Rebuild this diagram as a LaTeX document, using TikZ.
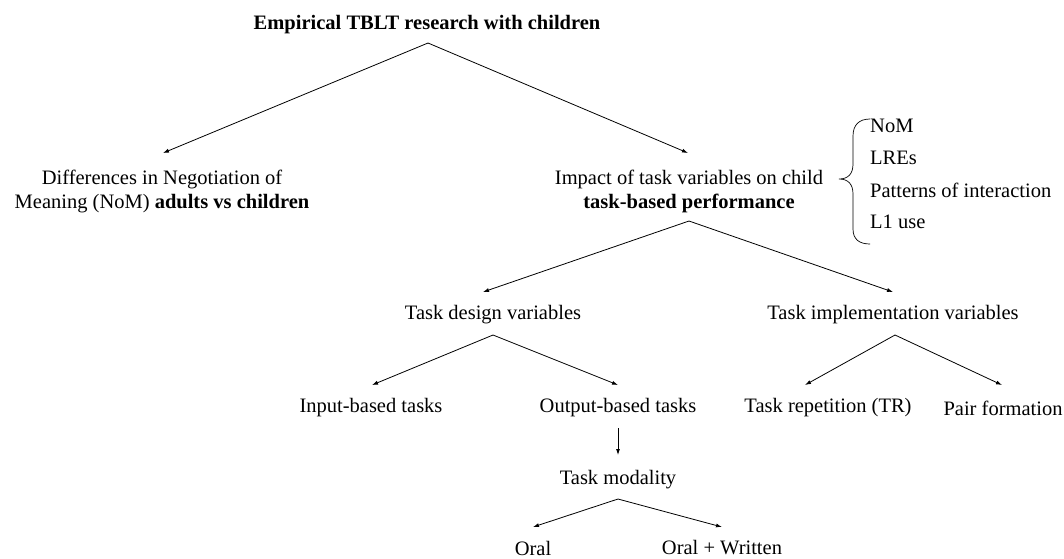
\documentclass[tikz,border=0pt]{standalone}
\usepackage{fontspec}
\setmainfont{Liberation Serif}
\usetikzlibrary{arrows.meta}
\begin{document}
\begin{tikzpicture}[x=1pt,y=-1pt,
  lbl/.style={inner sep=0pt,font=\fontsize{20.5}{24}\selectfont,align=center},
  arr/.style={-{Latex[length=6pt,width=4pt]},line width=0.8pt}]
\useasboundingbox (0,0) rectangle (1064,558);
\node[lbl,font=\fontsize{20.5}{24}\selectfont\bfseries] (title) at (427,25) {Empirical TBLT research with children};
\node[lbl] (diff) at (162,191) {Differences in Negotiation of\\Meaning (NoM) \textbf{adults vs children}};
\node[lbl] (imp) at (689,191) {Impact of task variables on child\\\textbf{task-based performance}};
\node[lbl,anchor=west] (o1) at (870,126) {NoM};
\node[lbl,anchor=west] (o2) at (870,158) {LREs};
\node[lbl,anchor=west] (o3) at (870,190) {Patterns of interaction};
\node[lbl,anchor=west] (o4) at (870,222) {L1 use};
\node[lbl] (design) at (493,315) {Task design variables};
\node[lbl] (impl) at (893,315) {Task implementation variables};
\node[lbl] (input) at (371,408) {Input-based tasks};
\node[lbl] (output) at (618,408) {Output-based tasks};
\node[lbl] (rep) at (828,408) {Task repetition (TR)};
\node[lbl] (pair) at (1003,408) {Pair formation};
\node[lbl] (mod) at (618,480) {Task modality};
\node[lbl] (oral) at (533,548) {Oral};
\node[lbl] (ow) at (722,548) {Oral + Written};
% connector ends
\coordinate (tA) at (428,43);
\coordinate (iA) at (689,221);
\coordinate (dA) at (493,335);
\coordinate (pA) at (895,335);
\coordinate (mA) at (618,499);
\coordinate (diffT) at (163,153);
\coordinate (impT) at (688,153);
\coordinate (designT) at (483,292);
\coordinate (implT) at (893,292);
\coordinate (inputT) at (372,385);
\coordinate (outputT) at (618,385);
\coordinate (repT) at (805,385);
\coordinate (pairT) at (1002,385);
\coordinate (oralT) at (533,527);
\coordinate (owT) at (722,527);
\coordinate (outB) at (618,428);
\coordinate (modT) at (618,455);
\draw[arr] (tA) -- (diffT);
\draw[arr] (tA) -- (impT);
\draw[arr] (iA) -- (designT);
\draw[arr] (iA) -- (implT);
\draw[arr] (dA) -- (inputT);
\draw[arr] (dA) -- (outputT);
\draw[arr] (pA) -- (repT);
\draw[arr] (pA) -- (pairT);
\draw[arr] (outB) -- (modT);
\draw[arr] (mA) -- (oralT);
\draw[arr] (mA) -- (owT);
% brace
\coordinate (bTop) at (870,119);
\coordinate (bTip) at (839,179);
\coordinate (bBot) at (870,244);
\draw[line width=0.7pt] (bTop) .. controls (859,119) and (853,125) .. (853,136) -- (853,164)
  .. controls (853,174) and (848,179) .. (bTip)
  .. controls (848,179) and (853,184) .. (853,194) -- (853,229)
  .. controls (853,239) and (859,244) .. (bBot);
\end{tikzpicture}
\end{document}
